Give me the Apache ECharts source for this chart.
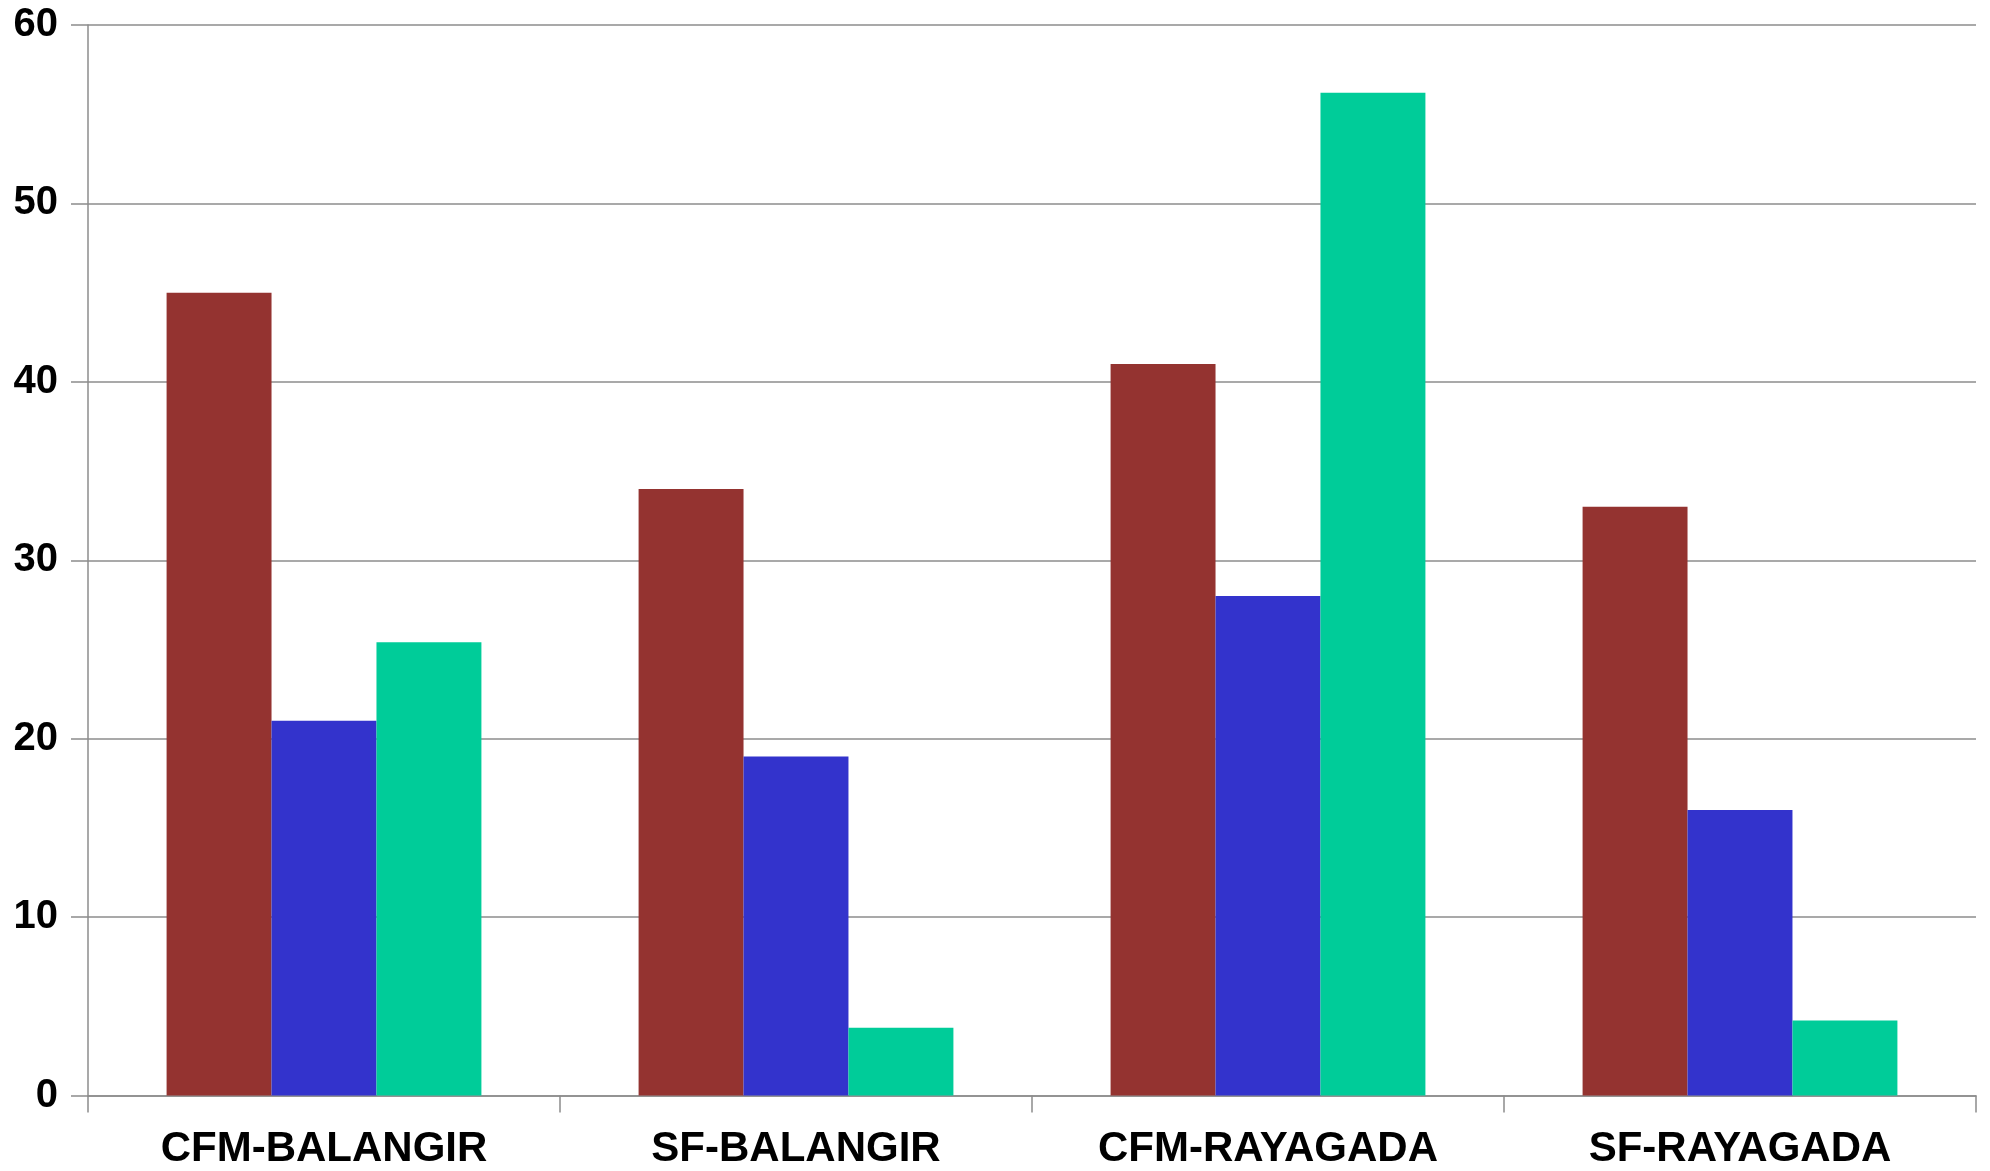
<!DOCTYPE html>
<html>
<head>
<meta charset="utf-8">
<title>Bar chart</title>
<script src="https://cdn.jsdelivr.net/npm/echarts@6/dist/echarts.min.js"></script>
<style>
  html, body { margin: 0; padding: 0; background: #ffffff; }
  #chart { width: 1990px; height: 1171px; }
</style>
</head>
<body>
<div id="chart"></div>
<script>
// Categories along the x axis
const categories = ['CFM-BALANGIR', 'SF-BALANGIR', 'CFM-RAYAGADA', 'SF-RAYAGADA'];

// Values for each of the three series
const seriesRed = [45, 34, 41, 33];
const seriesBlue = [21, 19, 28, 16];
const seriesTeal = [25.4, 3.8, 56.2, 4.2];

// Y axis scale
const yMin = 0;
const yMax = 60;
const yStep = 10;

const gridGray = '#8c8c8c';
const fontFamily = '"Liberation Sans", Arial, Helvetica, sans-serif';

const chart = echarts.init(document.getElementById('chart'), null, { renderer: 'canvas' });

chart.setOption({
  animation: false,
  backgroundColor: '#ffffff',
  grid: { left: 88, right: 14, top: 25, bottom: 75.5, containLabel: false },
  xAxis: {
    type: 'category',
    data: categories,
    boundaryGap: true,
    axisLine: { show: true, lineStyle: { color: gridGray, width: 1.5 } },
    axisTick: { show: true, length: 17, interval: 0, lineStyle: { color: gridGray, width: 1.5 } },
    axisLabel: {
      interval: 0,
      margin: 33,
      color: '#000000',
      fontFamily: fontFamily,
      fontWeight: 'bold',
      fontSize: 42
    },
    splitLine: { show: false }
  },
  yAxis: {
    type: 'value',
    min: yMin,
    max: yMax,
    interval: yStep,
    axisLine: { show: true, lineStyle: { color: gridGray, width: 1.5 } },
    axisTick: { show: true, length: 17, lineStyle: { color: gridGray, width: 1.5 } },
    axisLabel: {
      margin: 30,
      color: '#000000',
      fontFamily: fontFamily,
      fontWeight: 'bold',
      fontSize: 40
    },
    splitLine: { show: true, lineStyle: { color: gridGray, width: 1.5 } }
  },
  series: [
    {
      name: 'Series 1',
      type: 'bar',
      data: seriesRed,
      barGap: '0%',
      barCategoryGap: '33.3%',
      itemStyle: { color: '#943330' }
    },
    {
      name: 'Series 2',
      type: 'bar',
      data: seriesBlue,
      barGap: '0%',
      barCategoryGap: '33.3%',
      itemStyle: { color: '#3333cc' }
    },
    {
      name: 'Series 3',
      type: 'bar',
      data: seriesTeal,
      barGap: '0%',
      barCategoryGap: '33.3%',
      itemStyle: { color: '#00cc99' }
    }
  ]
});
</script>
</body>
</html>
